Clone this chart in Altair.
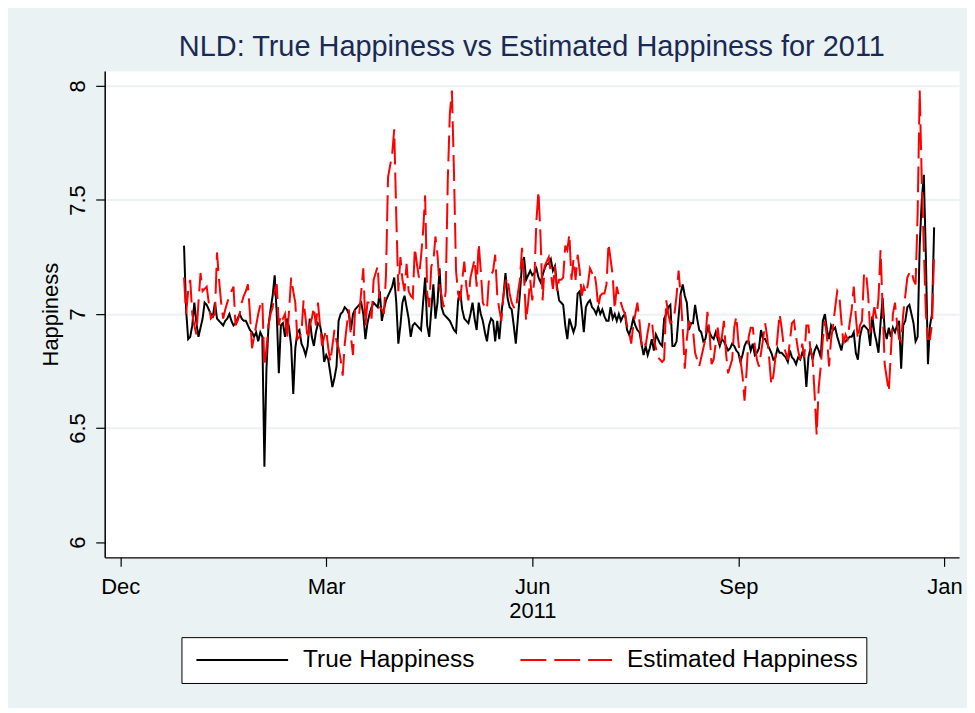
import altair as alt
import pandas as pd

start_date = "2011-01-01"
series_names = ["True Happiness", "Estimated Happiness"]
series_colors = ["#000000", "#ff0000"]

true_happiness = [
    7.30, 7.02, 6.89, 6.90, 6.95, 7.05, 6.96, 6.90, 6.94, 6.98,
    7.05, 7.04, 7.02, 7.00, 6.99, 7.05, 6.98, 6.97, 6.96, 6.95,
    6.97, 6.98, 7.00, 6.97, 6.95, 6.96, 6.98, 7.00, 6.98, 6.97,
    6.97, 6.95, 6.93, 6.92, 6.90, 6.92, 6.88, 6.92, 6.90, 6.33,
    6.76, 6.95, 7.02, 7.08, 7.17, 7.00, 6.74, 6.95, 6.96, 6.90,
    6.98, 6.94, 6.86, 6.65, 6.85, 6.92, 6.93, 6.87, 6.85, 6.82,
    6.86, 6.98, 6.90, 6.86, 6.92, 6.96, 6.95, 6.90, 6.79, 6.82,
    6.80, 6.74, 6.68, 6.72, 6.77, 6.97, 7.00, 7.01, 7.03, 7.02,
    7.00, 6.93, 7.00, 7.02, 7.03, 7.04, 7.05, 7.00, 6.89, 6.96,
    7.00, 7.03, 7.05, 7.04, 7.03, 7.10, 6.97, 7.02, 7.06, 7.08,
    7.10, 7.12, 7.16, 7.05, 6.87, 6.95, 7.05, 7.08, 7.03, 6.98,
    6.90, 6.95, 6.96, 6.95, 6.94, 6.93, 7.05, 7.16, 6.95, 6.90,
    7.02, 7.13, 6.98, 7.05, 7.20, 7.03, 7.00, 6.99, 6.98, 6.97,
    6.95, 6.93, 6.92, 7.06, 7.10, 7.02, 6.98, 6.97, 6.96, 7.00,
    7.05, 6.98, 6.93, 7.05, 7.00, 6.97, 6.92, 6.88, 6.95, 6.98,
    6.97, 6.88, 6.97, 6.89, 7.00, 7.08, 7.18, 7.07, 7.03, 7.02,
    6.95, 6.87, 6.98, 7.09, 7.22, 7.25, 7.15, 7.17, 7.19, 7.17,
    7.18, 7.20, 7.16, 7.14, 7.17, 7.20, 7.22, 7.22, 7.24, 7.19,
    7.21, 7.12, 7.06, 7.05, 7.04, 6.95, 6.89, 6.98, 6.95, 6.92,
    6.95, 7.09, 7.10, 7.02, 6.92, 7.03, 7.05, 7.06, 7.03, 7.02,
    7.00, 7.03, 7.00, 7.02, 6.99, 6.97, 6.97, 7.03, 6.98, 7.00,
    6.97, 7.00, 6.97, 6.99, 7.00, 6.93, 6.91, 6.94, 6.98, 6.95,
    6.93, 6.92, 6.87, 6.82, 6.86, 6.82, 6.85, 6.89, 6.84, 6.91,
    6.89, 6.87, 6.86, 6.98, 7.00, 7.03, 7.04, 6.86, 6.86, 6.88,
    6.99, 7.09, 7.13, 7.08, 7.05, 6.93, 6.96, 6.96, 7.04, 6.98,
    6.93, 6.92, 6.88, 6.89, 6.94, 6.92, 6.90, 6.89, 6.92, 6.89,
    6.86, 6.89, 6.88, 6.86, 6.84, 6.85, 6.87, 6.86, 6.84, 6.83,
    6.79, 6.82, 6.86, 6.88, 6.88, 6.84, 6.87, 6.82, 6.83, 6.85,
    6.93, 6.89, 6.89, 6.87, 6.85, 6.83, 6.80, 6.81, 6.85, 6.83,
    6.83, 6.82, 6.81, 6.79, 6.84, 6.81, 6.80, 6.78, 6.81, 6.80,
    6.83, 6.81, 6.68, 6.81, 6.85, 6.80, 6.84, 6.86, 6.84, 6.81,
    6.97, 7.00, 6.93, 6.89, 6.95, 6.93, 6.94, 6.90, 6.87, 6.84,
    6.89, 6.88, 6.89, 6.90, 6.90, 6.92, 6.83, 6.80, 6.90, 6.94,
    6.95, 6.94, 6.93, 6.86, 6.99, 6.92, 6.88, 6.83, 6.96, 7.07,
    6.93, 6.89, 6.94, 6.90, 6.94, 6.92, 6.95, 6.97, 6.76, 6.95,
    6.97, 7.03, 7.04, 7.00, 6.96, 6.88, 6.90, 7.30, 7.50, 7.61,
    7.25, 6.78, 6.95, 7.00, 7.38,
]

estimated_happiness = [
    7.16, 7.00, 7.10, 7.15, 7.00, 6.95, 6.91, 7.05, 7.18, 7.10,
    7.11, 7.12, 7.05, 6.98, 6.99, 7.00, 7.27, 7.15, 7.05, 6.98,
    7.02, 7.05, 7.08, 7.10, 7.12, 6.95, 6.97, 7.00, 7.05, 7.08,
    7.10, 7.13, 7.00, 6.85, 6.90, 6.95, 7.00, 7.04, 7.06, 6.77,
    6.85, 6.95, 7.00, 7.03, 7.10, 7.13, 6.95, 7.00, 6.98, 7.00,
    6.89, 7.02, 7.16, 7.10, 7.05, 6.89, 6.90, 6.92, 7.06, 6.98,
    6.89, 6.95, 6.98, 7.03, 6.95, 7.05, 6.95, 6.86, 6.90, 6.93,
    6.85, 6.79, 6.86, 6.93, 6.88, 6.85, 6.80, 6.73, 6.87, 6.95,
    7.02, 6.90, 6.82, 7.02, 7.00, 7.00, 7.10, 7.20, 6.95, 7.05,
    7.05, 6.98, 7.15, 7.18, 7.21, 7.03, 7.02, 7.00, 7.17, 7.60,
    7.65, 7.70, 7.81, 7.43, 7.10, 7.25, 7.15, 7.10, 7.22, 7.10,
    7.08, 7.07, 7.29, 7.22, 7.16, 7.25, 7.36, 7.52, 7.09, 7.03,
    7.21, 7.23, 7.34, 7.26, 7.12, 7.08, 7.03, 7.10, 7.59, 7.88,
    7.98, 7.62, 7.19, 7.09, 7.06, 7.15, 7.23, 7.12, 7.06, 7.16,
    7.20, 7.24, 7.12, 7.31, 7.19, 7.05, 7.03, 7.02, 7.16, 7.17,
    7.19, 7.26, 7.08, 7.02, 6.97, 7.08, 7.14, 7.16, 7.09, 7.05,
    7.03, 7.02, 7.09, 7.15, 7.29, 7.16, 6.97, 7.05, 7.15, 7.06,
    7.15, 7.41, 7.54, 7.34, 7.06, 7.21, 7.23, 7.25, 7.18, 7.11,
    7.21, 7.10, 7.15, 7.15, 7.16, 7.30, 7.28, 7.35, 7.15, 7.24,
    7.15, 7.26, 7.19, 7.08, 7.12, 7.09, 7.13, 7.20, 7.18, 7.19,
    7.13, 7.03, 7.08, 7.09, 7.09, 7.13, 7.31, 7.24, 7.17, 7.02,
    7.12, 7.08, 7.05, 7.02, 7.00, 6.95, 6.92, 6.87, 6.95, 7.00,
    7.05, 6.97, 6.87, 6.89, 6.86, 6.92, 6.97, 6.97, 6.89, 6.85,
    6.81, 6.80, 6.79, 6.80, 7.06, 7.00, 6.96, 6.97, 7.00, 7.08,
    7.19, 7.08, 6.94, 6.76, 6.89, 6.97, 6.94, 6.93, 6.83, 6.80,
    6.77, 6.81, 6.85, 6.89, 7.01, 6.92, 6.78, 6.80, 6.87, 6.94,
    6.86, 6.90, 6.97, 6.83, 6.74, 6.77, 6.80, 6.94, 6.99, 6.88,
    6.80, 6.73, 6.62, 6.75, 6.90, 6.94, 6.94, 6.86, 6.80, 6.77,
    6.83, 6.89, 6.96, 6.90, 6.80, 6.69, 6.73, 6.81, 6.90, 7.00,
    6.94, 6.86, 6.83, 6.80, 6.88, 6.96, 6.97, 6.90, 6.84, 6.80,
    6.87, 6.81, 6.95, 6.95, 6.84, 6.81, 6.65, 6.47, 6.68, 6.77,
    6.89, 6.97, 6.90, 6.77, 6.89, 6.95, 7.03, 7.10, 7.08, 6.97,
    6.87, 6.91, 6.89, 6.96, 7.02, 7.12, 6.99, 6.89, 6.95, 6.97,
    7.18, 7.18, 7.08, 6.92, 6.97, 7.03, 6.98, 7.07, 7.28, 7.03,
    6.78, 6.72, 6.66, 6.83, 7.00, 7.05, 6.96, 6.89, 6.88, 7.00,
    7.08, 7.16, 7.18, 7.19, 7.15, 7.13, 7.44, 7.98, 7.59, 7.29,
    7.00, 6.89, 6.89, 6.96, 7.27,
]

y_ticks = [6, 6.5, 7, 7.5, 8]
x_tick_dates = [(2010, 12, 1), (2011, 3, 11), (2011, 6, 19), (2011, 9, 27), (2012, 1, 5)]

dates = pd.date_range(start_date, periods=len(true_happiness), freq="D")
df = pd.DataFrame({
    "date": list(dates) + list(dates),
    "value": true_happiness + estimated_happiness,
    "series": [series_names[0]] * len(true_happiness) + [series_names[1]] * len(estimated_happiness),
})

FONT = "Liberation Sans"

x_enc = alt.X(
    "date:T",
    scale=alt.Scale(domain=[alt.DateTime(year=2010, month=11, date=23, hours=12),
                            alt.DateTime(year=2012, month=1, date=12, hours=2)]),
    axis=alt.Axis(
        values=[alt.DateTime(year=y, month=m, date=d) for (y, m, d) in x_tick_dates],
        labelExpr="month(datum.value) == 5 ? ['Jun', '2011'] : timeFormat(datum.value, '%b')",
        title=None, grid=False, tickSize=9, tickColor="black", tickWidth=1.2,
        domainColor="black", domainWidth=1.5, labelFont=FONT, labelFontSize=22,
        labelColor="black", labelPadding=10, labelLineHeight=24, labelFlush=False,
        labelOverlap=False,
    ),
)

y_enc = alt.Y(
    "value:Q",
    scale=alt.Scale(domain=[5.933, 8.066], nice=False, zero=False),
    axis=alt.Axis(
        values=y_ticks, format="~g", title="Happiness", labelAngle=270,
        labelAlign="center", labelBaseline="alphabetic", labelPadding=11,
        labelFont=FONT, labelFontSize=22, labelColor="black",
        tickSize=9, tickColor="black", tickWidth=1.2,
        domainColor="black", domainWidth=1.5,
        grid=True, gridColor="#eaf2f3", gridWidth=2,
        gridOpacity={"condition": {"test": "datum.value < 6.1", "value": 0}, "value": 1},
        titleFont=FONT, titleFontSize=22, titleFontWeight="normal", titleColor="black",
        titleAngle=270, titleBaseline="alphabetic", titleX=-47, titleY=244,
        labelOverlap=False,
    ),
)

legend = alt.Legend(
    orient="none", legendX=77, legendY=568, direction="horizontal", title=None,
    symbolType="stroke", symbolSize=8464, symbolStrokeWidth=2, clipHeight=30,
    padding=8, symbolOffset=6, labelOffset=14, columnPadding=38, labelLimit=600,
    labelFont=FONT, labelFontSize=24.5, labelColor="black",
    strokeColor="black", fillColor="white",
)

color_enc = alt.Color("series:N", scale=alt.Scale(domain=series_names, range=series_colors), legend=legend)
dash_enc = alt.StrokeDash("series:N", scale=alt.Scale(domain=series_names, range=[[1, 0], [26, 8]]), legend=legend)

base = alt.Chart(df).mark_line(strokeWidth=2, clip=True).encode(
    x=x_enc, y=y_enc, color=color_enc, strokeDash=dash_enc
)

layer_true = base.transform_filter(alt.datum.series == series_names[0])
layer_est = base.transform_filter(alt.datum.series == series_names[1])

chart = alt.layer(layer_true, layer_est).properties(
    width=857, height=488,
    title=alt.TitleParams(
        "NLD: True Happiness vs Estimated Happiness for 2011",
        font=FONT, fontSize=29, fontWeight="normal", color="#1a2a55",
        anchor="middle", baseline="alphabetic", offset=13, dy=27,
    ),
    background="#eaf2f3",
    autosize=alt.AutoSizeParams(type="none"),
    padding={"left": 97, "top": 62, "right": 8, "bottom": 150},
).configure_view(fill="white", stroke="transparent")

chart.save("out.html", embed_options={"renderer": "svg", "actions": False})
